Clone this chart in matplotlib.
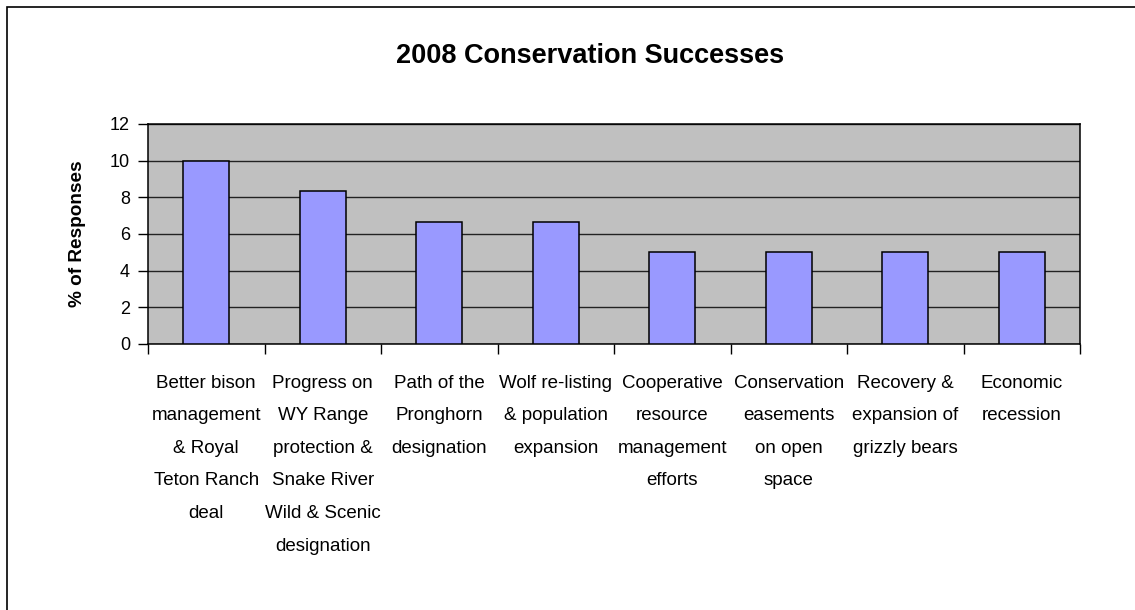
import matplotlib.pyplot as plt
from matplotlib.patches import Rectangle
import numpy as np

categories = [
    "Better bison\nmanagement\n& Royal\nTeton Ranch\ndeal",
    "Progress on\nWY Range\nprotection &\nSnake River\nWild & Scenic\ndesignation",
    "Path of the\nPronghorn\ndesignation",
    "Wolf re-listing\n& population\nexpansion",
    "Cooperative\nresource\nmanagement\nefforts",
    "Conservation\neasements\non open\nspace",
    "Recovery &\nexpansion of\ngrizzly bears",
    "Economic\nrecession",
]
pct_responses = [10.0, 8.33, 6.67, 6.67, 5.0, 5.0, 5.0, 5.0]
y_ticks = [0, 2, 4, 6, 8, 10, 12]

plt.rcParams["font.family"] = ["Liberation Sans", "DejaVu Sans"]

W, H = 1135, 610
fig = plt.figure(figsize=(W / 100, H / 100), dpi=100)
fig.patch.set_facecolor("white")

# plot area in pixel box
left, right, top, bottom = 148, 1080, 124, 344
ax = fig.add_axes([left / W, 1 - bottom / H, (right - left) / W, (bottom - top) / H])
ax.set_facecolor("#C0C0C0")

x = np.arange(len(categories))
ax.bar(x, pct_responses, width=0.395, color="#9999FF", edgecolor="black", linewidth=1.1, zorder=3)

ax.set_xlim(-0.5, len(categories) - 0.5)
ax.set_ylim(0, 12)
ax.set_yticks(y_ticks)
ax.yaxis.grid(True, color="#222222", linewidth=1.0, zorder=1)
ax.set_axisbelow(True)

for s in ax.spines.values():
    s.set_color("black")
    s.set_linewidth(1.1)

ax.tick_params(axis="y", direction="out", length=7, width=1, colors="black", labelsize=13, pad=6)

# category labels sit between the boundary ticks
ax.set_xticks(x)
ax.set_xticklabels(categories, fontsize=13.5, linespacing=2.2)
ax.tick_params(axis="x", which="major", length=0, pad=22)
ax.set_xticks(np.arange(len(categories) + 1) - 0.5, minor=True)
ax.tick_params(axis="x", which="minor", direction="out", length=7, width=1, colors="black")

ax.set_ylabel("% of Responses", fontsize=13.7, fontweight="bold", labelpad=17)

fig.text(590 / W, 1 - 63 / H, "2008 Conservation Successes", ha="center", va="baseline",
         fontsize=19.5, fontweight="bold")

# chart area border (right and bottom run off the image)
fig.patches.append(Rectangle((6.5 / W, -0.2), 2, 1 - 6.5 / H + 0.2, transform=fig.transFigure,
                             fill=False, edgecolor="black", linewidth=1.2))

fig.savefig("out.png", dpi=100)
